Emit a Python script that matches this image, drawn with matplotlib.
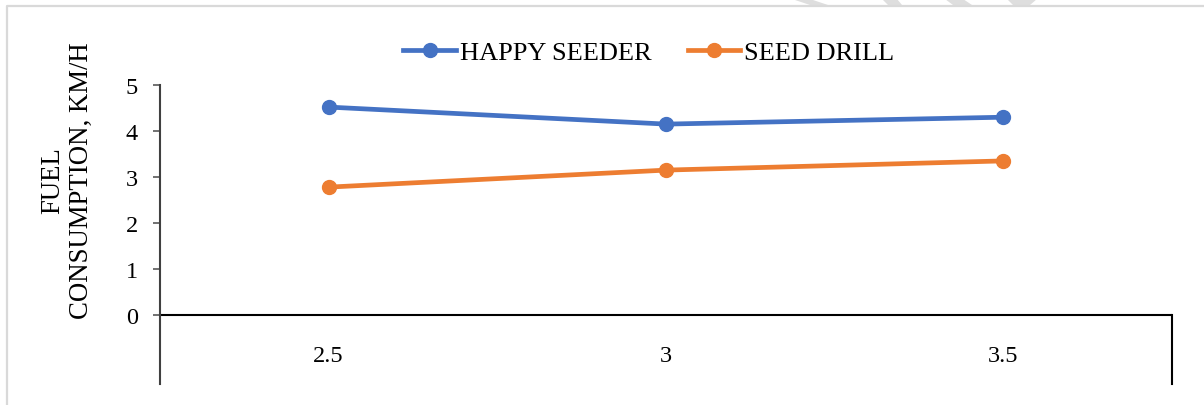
import numpy as np
import matplotlib.pyplot as plt
from matplotlib.lines import Line2D
from matplotlib.patches import Polygon

plt.rcParams['font.family'] = ['Liberation Serif', 'DejaVu Serif']

# data
speeds = ['2.5', '3', '3.5']
happy_seeder = [4.52, 4.15, 4.30]
seed_drill = [2.78, 3.15, 3.35]
y_ticks = [0, 1, 2, 3, 4, 5]

blue = '#4472C4'
orange = '#ED7D31'

W, H = 1204, 406
fig = plt.figure(figsize=(W / 100, H / 100), dpi=100)
ax = fig.add_axes([160 / W, (H - 385) / H, (1172 - 160) / W, (385 - 86) / H])

x = np.arange(len(speeds))
ax.plot(x, happy_seeder, color=blue, lw=3.4, marker='o', ms=10, label='HAPPY SEEDER')
ax.plot(x, seed_drill, color=orange, lw=3.4, marker='o', ms=10, label='SEED DRILL')

ax.set_xlim(-0.5, len(speeds) - 0.5)
ax.set_ylim(-1.5, 5)
ax.set_yticks(y_ticks)
ax.set_yticklabels([str(t) for t in y_ticks], fontsize=17.5)
ax.tick_params(axis='y', direction='out', length=5, width=1.2, color='#595959', pad=11)
ax.set_xticks([])

for s in ['top', 'bottom']:
    ax.spines[s].set_visible(False)
ax.spines['left'].set_bounds(-1.5, 5)
ax.spines['left'].set_color('#404040')
ax.spines['left'].set_linewidth(1.5)
ax.spines['right'].set_bounds(-1.5, 0)
ax.spines['right'].set_color('black')
ax.spines['right'].set_linewidth(1.5)
ax.axhline(0, color='black', lw=1.5, zorder=1)

# category labels sit inside the box under the zero line
for xi, lab in zip(x, speeds):
    ax.text(xi, -0.89, lab, ha='center', va='center', fontsize=17.5)

fig.text(67 / W, 1 - 181 / H, 'FUEL\nCONSUMPTION, KM/H', rotation=90,
         ha='center', va='center', fontsize=19.3, linespacing=1.2)

fig.legend(loc='center', bbox_to_anchor=(649 / W, 1 - 53 / H), ncol=2, frameon=False,
           fontsize=19, handlelength=2.0, handletextpad=0.15, columnspacing=1.36,
           borderpad=0)

# light border of the chart area (left and top only)
fig.add_artist(Line2D([7 / W, 7 / W, 1], [0, 1 - 7 / H, 1 - 7 / H],
                      transform=fig.transFigure, color='#d9d9d9', lw=1.6))

# faint watermark stripes above the border
stripes = [(792, 810, 810, 828), (882, 897, 888, 902), (945, 963, 953, 972), (1007, 1037, 1013, 1030)]
for a, b, c, d in stripes:
    fig.add_artist(Polygon([(a / W, 1), (b / W, 1), (d / W, 1 - 6 / H), (c / W, 1 - 6 / H)],
                           closed=True, transform=fig.transFigure, color='#dedede', lw=0))

fig.savefig('out.png', dpi=100)
